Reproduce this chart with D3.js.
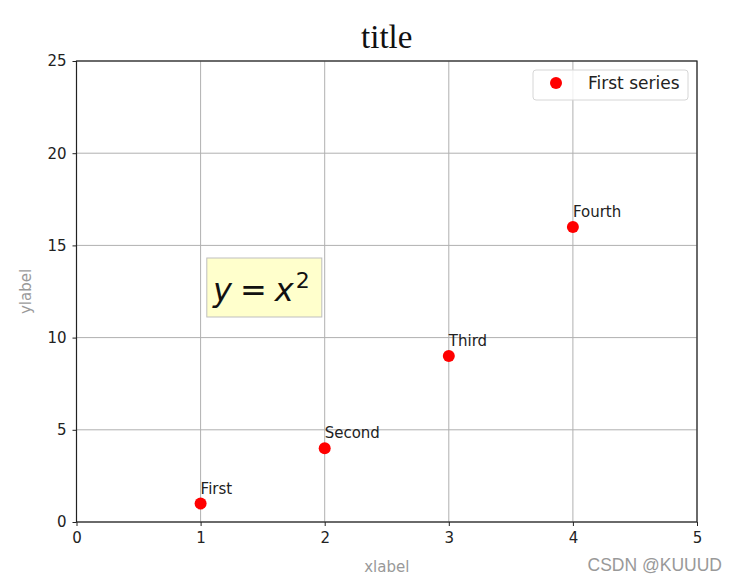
<!DOCTYPE html>
<html>
<head>
<meta charset="utf-8">
<script src="https://cdn.jsdelivr.net/npm/d3@7"></script>
<style>
  body { margin: 0; background: #fff; }
  svg { font-family: "DejaVu Sans", sans-serif; }
</style>
</head>
<body>
<svg width="739" height="581"></svg>
<script>
// data
const xs = [1, 2, 3, 4]
const ys = [1, 4, 9, 16]
const names = ["First", "Second", "Third", "Fourth"]
const xTicks = [0, 1, 2, 3, 4, 5]
const yTicks = [0, 5, 10, 15, 20, 25]

const m = {left: 76.5, right: 697, top: 61, bottom: 522}

const svg = d3.select("svg")

let x = d3.scaleLinear().domain([0, 5]).range([m.left, m.right])
let y = d3.scaleLinear().domain([0, 25]).range([m.bottom, m.top])

// grid
svg.append("g").selectAll("line")
  .data(xTicks).enter().append("line")
    .attr("x1", d => x(d)).attr("x2", d => x(d))
    .attr("y1", m.top).attr("y2", m.bottom)
    .attr("stroke", "#b0b0b0").attr("stroke-width", 1)

svg.append("g").selectAll("line")
  .data(yTicks).enter().append("line")
    .attr("y1", d => y(d)).attr("y2", d => y(d))
    .attr("x1", m.left).attr("x2", m.right)
    .attr("stroke", "#b0b0b0").attr("stroke-width", 1)

// axes
let xAxis = d3.axisBottom(x).tickValues(xTicks).tickFormat(d3.format("d")).tickSize(4).tickPadding(6)
let yAxis = d3.axisLeft(y).tickValues(yTicks).tickFormat(d3.format("d")).tickSize(4).tickPadding(6)

let gx = svg.append("g").attr("transform", `translate(0,${m.bottom})`).call(xAxis)
let gy = svg.append("g").attr("transform", `translate(${m.left},0)`).call(yAxis)
;[gx, gy].forEach(g => {
  g.select(".domain").remove()
  g.selectAll("text").style("font-family", "DejaVu Sans").style("font-size", "15px").attr("fill", "#222")
  g.selectAll("line").attr("stroke", "#222")
})

// frame
svg.append("rect")
  .attr("x", m.left).attr("y", m.top)
  .attr("width", m.right - m.left).attr("height", m.bottom - m.top)
  .attr("fill", "none").attr("stroke", "#222").attr("stroke-width", 1.2)

// points
svg.append("g").selectAll("circle")
  .data(xs).enter().append("circle")
    .attr("cx", d => x(d))
    .attr("cy", (d, i) => y(ys[i]))
    .attr("r", 6)
    .attr("fill", "#ff0000")

svg.append("g").selectAll("text")
  .data(names).enter().append("text")
    .attr("x", (d, i) => x(xs[i]))
    .attr("y", (d, i) => y(ys[i]) - 10)
    .style("font-size", "15px")
    .attr("fill", "#222")
    .text(d => d)

// equation box
let eq = svg.append("g")
eq.append("rect")
  .attr("x", x(1.05)).attr("y", 258)
  .attr("width", 115).attr("height", 59)
  .attr("fill", "#ffffcc").attr("stroke", "#bfbfbf").attr("stroke-width", 1)
let et = eq.append("text")
  .attr("x", x(1.1)).attr("y", y(12))
  .style("font-size", "32px").attr("fill", "#111")
et.append("tspan").style("font-style", "italic").text("y")
et.append("tspan").attr("dx", 8).text("=")
et.append("tspan").attr("dx", 8).style("font-style", "italic").text("x")
et.append("tspan").style("font-size", "22px").attr("dy", -13).attr("dx", 2).text("2")

// legend
let lg = svg.append("g")
lg.append("rect")
  .attr("x", 533).attr("y", 70).attr("width", 155).attr("height", 30).attr("rx", 3)
  .attr("fill", "#fff").attr("fill-opacity", 0.8).attr("stroke", "#d6d6d6")
lg.append("circle").attr("cx", 556).attr("cy", 83).attr("r", 6).attr("fill", "#ff0000")
lg.append("text").attr("x", 588).attr("y", 89)
  .style("font-size", "17px").attr("fill", "#222").text("First series")

// title & labels
svg.append("text")
  .attr("x", (m.left + m.right) / 2).attr("y", 48)
  .attr("text-anchor", "middle")
  .style("font-family", "'Liberation Serif', 'Times New Roman', serif")
  .style("font-size", "33px").attr("fill", "#111")
  .text("title")

svg.append("text")
  .attr("x", (m.left + m.right) / 2).attr("y", 572)
  .attr("text-anchor", "middle")
  .style("font-size", "15px").attr("fill", "#999")
  .text("xlabel")

svg.append("text")
  .attr("transform", `translate(31,${(m.top + m.bottom) / 2}) rotate(-90)`)
  .attr("text-anchor", "middle")
  .style("font-size", "15px").attr("fill", "#999")
  .text("ylabel")

// watermark
svg.append("text")
  .attr("x", 722).attr("y", 571)
  .attr("text-anchor", "end")
  .style("font-family", "'Liberation Sans', Arial, sans-serif")
  .style("font-size", "17.5px").attr("fill", "#999")
  .text("CSDN @KUUUD")
</script>
</body>
</html>
